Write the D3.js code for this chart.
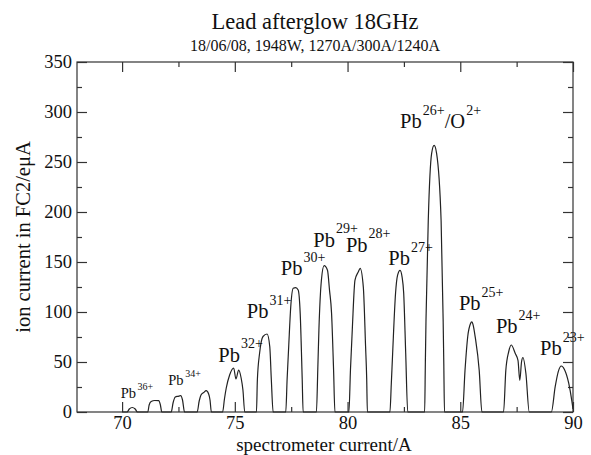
<!DOCTYPE html>
<html>
<head>
<meta charset="utf-8">
<script src="https://cdn.jsdelivr.net/npm/d3@7"></script>
<style>
  html, body { margin: 0; padding: 0; background: #fff; }
  svg { display: block; }
  text { font-family: "Liberation Serif", "Times New Roman", serif; fill: #111; }
</style>
</head>
<body>
<div id="chart"></div>
<script>
// ---- Data ----
const chartTitle = "Lead afterglow 18GHz";
const chartSubtitle = "18/06/08, 1948W, 1270A/300A/1240A";
const xLabel = "spectrometer current/A";
const yLabel = "ion current in FC2/e\u03bcA";

const xDomain = [68, 90];
const yDomain = [0, 350];
const xMajorTicks = [70, 75, 80, 85, 90];
const xMinorTicks = [72.5, 77.5, 82.5, 87.5];
const yMajorTicks = [0, 50, 100, 150, 200, 250, 300, 350];
const yMinorTicks = [25, 75, 125, 175, 225, 275, 325];

// Scan trace, peak by peak: [spectrometer current (A), ion current (eµA)]
const peak70 = [[70.0,0],[70.22,0],[70.32,3],[70.45,4.5],[70.58,3],[70.68,0]];
const peak71 = [[71.14,0],[71.2,7],[71.29,10.5],[71.45,11.5],[71.62,11.3],[71.7,7],[71.76,0]];
const peak72 = [[72.18,0],[72.26,9],[72.36,15],[72.48,15.7],[72.6,16.3],[72.68,12],[72.77,0]];
const peak73 = [[73.33,0],[73.42,11],[73.5,17],[73.62,19.5],[73.73,21.3],[73.84,18],[73.9,12],[73.96,0]];
const peak75 = [[74.46,0],[74.54,13],[74.62,24],[74.77,37],[74.95,44],[75.05,33],[75.17,42],[75.28,34],[75.36,22],[75.44,0]];
const peak76 = [[75.96,0],[76.0,32],[76.1,59],[76.25,75.5],[76.43,78],[76.55,65.5],[76.62,32],[76.70,0]];
const peak77 = [[77.26,0],[77.32,33],[77.39,65.5],[77.48,105],[77.59,123.7],[77.7,124.3],[77.81,122],[77.9,98.6],[77.99,32],[78.03,0]];
const peak79 = [[78.62,0],[78.68,42.6],[78.73,82.3],[78.84,131.8],[78.96,146.3],[79.11,141.7],[79.2,121.9],[79.29,99.1],[79.38,42.6],[79.44,0]];
const peak80 = [[80.06,0],[80.13,42.6],[80.21,82.3],[80.33,131.8],[80.48,140.3],[80.56,143.7],[80.70,124.9],[80.80,65.4],[80.85,32.7],[80.88,0]];
const peak82 = [[81.88,0],[81.94,27.8],[82.0,58.5],[82.13,119],[82.22,136.8],[82.33,141.7],[82.42,134.8],[82.49,119],[82.58,58.5],[82.67,0]];
const peak84 = [[83.42,0],[83.45,47.6],[83.48,92.2],[83.58,191.3],[83.73,258.7],[83.84,266.6],[83.95,258.7],[84.15,191.3],[84.24,92.2],[84.27,47.6],[84.30,0]];
const peak85 = [[85.10,0],[85.21,41.6],[85.33,75.3],[85.45,88.2],[85.51,90.2],[85.58,86.2],[85.66,75.3],[85.84,41.6],[85.96,0]];
const peak87 = [[86.92,0],[87.02,41.6],[87.15,60.5],[87.26,67],[87.44,58.5],[87.56,51.6],[87.64,31.7],[87.72,50.6],[87.78,54.5],[87.91,38.7],[88.06,0]];
const peak89 = [[89.04,0],[89.21,25.3],[89.35,40.7],[89.48,46],[89.62,42.6],[89.81,28.8],[89.95,10.9],[90.0,3]];
const peaks = [peak70, peak71, peak72, peak73, peak75, peak76, peak77, peak79, peak80, peak82, peak84, peak85, peak87, peak89];

// Peak annotations: ion, charge state, anchor (x in A, y in eµA)
const labelIon    = ["Pb","Pb","Pb","Pb","Pb","Pb","Pb","Pb","Pb","Pb","Pb","Pb"];
const labelCharge = ["36+","34+","32+","31+","30+","29+","28+","27+","26+","25+","24+","23+"];
const labelX      = [69.94, 72.05, 74.27, 75.53, 77.04, 78.48, 79.93, 81.81, 82.33, 84.94, 86.58, 88.54];
const labelY      = [13.7, 27, 50.3, 93.7, 137, 165.3, 160.3, 147, 283.7, 102, 78.7, 57];
const labelExtraIon = ["", "", "", "", "", "", "", "", "/O", "", "", ""];
const labelExtraCharge = ["", "", "", "", "", "", "", "", "2+", "", "", ""];
const smallCharges = ["36+", "34+"];

// ---- Layout ----
const W = 591, H = 455;
const margin = { top: 62, right: 18, bottom: 43, left: 77 };
const iw = W - margin.left - margin.right;
const ih = H - margin.top - margin.bottom;

const svg = d3.select("#chart").append("svg").attr("width", W).attr("height", H);

const x = d3.scaleLinear().domain(xDomain).range([margin.left, margin.left + iw]);
const y = d3.scaleLinear().domain(yDomain).range([margin.top + ih, margin.top]);

const axisColor = "#333";
const serif = '"Liberation Serif", "Times New Roman", serif';

// Titles
svg.append("text").attr("x", 315).attr("y", 28.5)
  .attr("text-anchor", "middle").style("font-size", "22.5px").text(chartTitle);
svg.append("text").attr("x", 315).attr("y", 50.5)
  .attr("text-anchor", "middle").style("font-size", "16px").text(chartSubtitle);

// Axes: major ticks inward length 10, minor 5, mirrored on all sides
function styleAxis(g) {
  g.attr("font-family", null).attr("font-size", null);
  g.select(".domain").remove();
  g.selectAll(".tick line").attr("stroke", axisColor).attr("stroke-width", 1.2);
  g.selectAll("text").style("font-family", serif).style("font-size", "18.5px").attr("fill", "#111");
}
const majorLen = 10, minorLen = 5;

// bottom
svg.append("g").attr("transform", `translate(0,${margin.top + ih})`)
  .call(d3.axisBottom(x).tickValues(xMajorTicks).tickSize(-majorLen).tickPadding(4).tickFormat(d3.format("d")))
  .call(styleAxis);
svg.append("g").attr("transform", `translate(0,${margin.top + ih})`)
  .call(d3.axisBottom(x).tickValues(xMinorTicks).tickSize(-minorLen).tickFormat(""))
  .call(styleAxis);
// top
svg.append("g").attr("transform", `translate(0,${margin.top})`)
  .call(d3.axisTop(x).tickValues(xMajorTicks).tickSize(-majorLen).tickFormat(""))
  .call(styleAxis);
svg.append("g").attr("transform", `translate(0,${margin.top})`)
  .call(d3.axisTop(x).tickValues(xMinorTicks).tickSize(-minorLen).tickFormat(""))
  .call(styleAxis);
// left
svg.append("g").attr("transform", `translate(${margin.left},0)`)
  .call(d3.axisLeft(y).tickValues(yMajorTicks).tickSize(-majorLen).tickPadding(5).tickFormat(d3.format("d")))
  .call(styleAxis);
svg.append("g").attr("transform", `translate(${margin.left},0)`)
  .call(d3.axisLeft(y).tickValues(yMinorTicks).tickSize(-minorLen).tickFormat(""))
  .call(styleAxis);
// right
svg.append("g").attr("transform", `translate(${margin.left + iw},0)`)
  .call(d3.axisRight(y).tickValues(yMajorTicks).tickSize(-majorLen).tickFormat(""))
  .call(styleAxis);
svg.append("g").attr("transform", `translate(${margin.left + iw},0)`)
  .call(d3.axisRight(y).tickValues(yMinorTicks).tickSize(-minorLen).tickFormat(""))
  .call(styleAxis);

// Frame
svg.append("rect").attr("x", margin.left).attr("y", margin.top)
  .attr("width", iw).attr("height", ih)
  .attr("fill", "none").attr("stroke", axisColor).attr("stroke-width", 1.2);

// Trace
svg.append("clipPath").attr("id", "clip").append("rect")
  .attr("x", margin.left).attr("y", margin.top - 2).attr("width", iw).attr("height", ih + 4);
const line = d3.line().x(d => x(d[0])).y(d => y(d[1])).curve(d3.curveMonotoneX);
svg.append("path")
  .datum(peaks.flat())
  .attr("clip-path", "url(#clip)")
  .attr("d", line)
  .attr("fill", "none")
  .attr("stroke", "#222")
  .attr("stroke-width", 1.2)
  .attr("stroke-linejoin", "round");

// Peak labels
labelIon.forEach((ion, i) => {
  const small = smallCharges.includes(labelCharge[i]);
  const mainSize = small ? 14.5 : 20.5;
  const supSize = small ? 10 : 14;
  const rise = small ? 8.5 : 13.5;
  const t = svg.append("text")
    .attr("x", x(labelX[i])).attr("y", y(labelY[i]))
    .style("font-size", mainSize + "px");
  t.append("tspan").text(ion);
  t.append("tspan").attr("dx", small ? 1.5 : 1).attr("dy", -rise).style("font-size", supSize + "px").text(labelCharge[i]);
  if (labelExtraIon[i]) {
    t.append("tspan").attr("dy", rise).text(labelExtraIon[i]);
    t.append("tspan").attr("dx", 1).attr("dy", -rise).style("font-size", supSize + "px").text(labelExtraCharge[i]);
  }
});

// Axis titles
svg.append("text").attr("x", margin.left + iw / 2 - 1).attr("y", 451)
  .attr("text-anchor", "middle").style("font-size", "19px").text(xLabel);
svg.append("text")
  .attr("transform", `translate(30,${margin.top + ih / 2}) rotate(-90)`)
  .attr("text-anchor", "middle").style("font-size", "20.5px").text(yLabel);
</script>
</body>
</html>
